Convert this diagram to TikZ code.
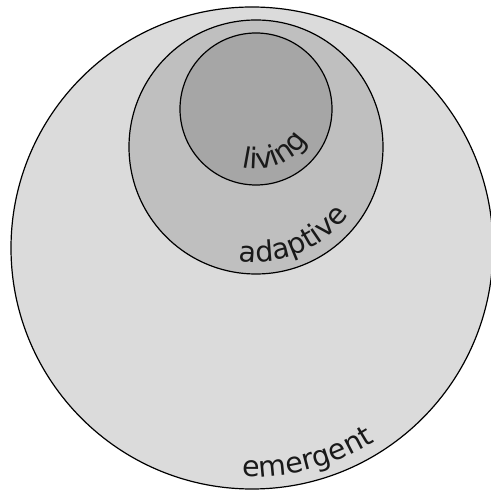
\documentclass[tikz,border=0pt]{standalone}
\usepackage{fontspec}
\setmainfont{DejaVu Sans}
\usetikzlibrary{decorations.text}
\newcommand{\ringfont}{\fontsize{28.5}{32}\selectfont}

\begin{document}
\begin{tikzpicture}[x=1pt,y=1pt,
  ring/.style={draw=black,line width=1.2pt},
  ringlabel/.style={decorate,decoration={text along path,text align=left,text color=black!90}}]
\useasboundingbox (0,0) rectangle (491,490);
% nested circles
\coordinate (emergent) at (252,242);
\coordinate (adaptive) at (256,343);
\coordinate (living) at (256,381);
\draw[ring,fill=black!14] (emergent) circle (241pt);
\draw[ring,fill=black!25] (adaptive) circle (127pt);
\draw[ring,fill=black!35] (living) circle (76pt);
% labels along the lower arcs
\path[ringlabel,decoration={text={|\ringfont|living}}]
  (living) ++(-104:60pt) arc (-104:-10:60pt);
\path[ringlabel,decoration={text={|\ringfont|adaptive}}]
  (adaptive) ++(-98.5:115pt) arc (-98.5:-10:115pt);
\path[ringlabel,decoration={text={|\ringfont|emergent}}]
  (emergent) ++(-92.5:229pt) arc (-92.5:-30:229pt);
\end{tikzpicture}
\end{document}
